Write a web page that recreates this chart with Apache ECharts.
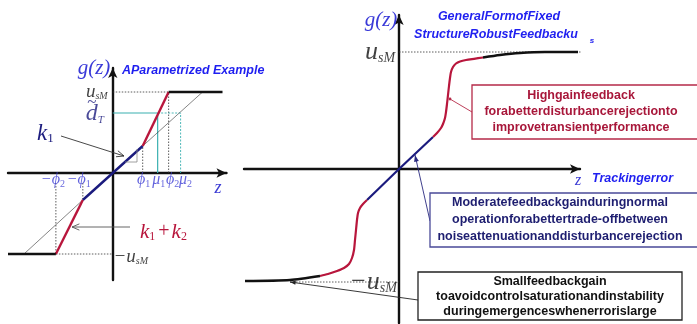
<!DOCTYPE html>
<html><head><meta charset="utf-8">
<script src="https://cdn.jsdelivr.net/npm/echarts@6/dist/echarts.min.js"></script>
<style>html,body{margin:0;padding:0;background:#fff}#c{width:697px;height:324px}</style>
</head><body><div id="c"></div><script>
// ---- Left panel: parametrized piecewise-linear feedback g(z) ----
const leftBlue   = [[-3, -2.7], [0, 0], [3, 2.7]];          // slope k1
const leftRedPos = [[3, 2.7], [5.6, 8.1]];                  // slope k1 + k2
const leftRedNeg = [[-5.7, -8.1], [-3, -2.7]];
const leftSatPos = [[5.6, 8.1], [11, 8.1]];                 // saturation u_sM
const leftSatNeg = [[-10.5, -8.1], [-5.7, -8.1]];
const leftK1Pos  = [[3, 2.7], [9, 8.1]];                    // k1 continued
const leftK1Neg  = [[-3, -2.7], [-8.9, -8.1]];
const leftDotted = [
  [[0, 8.1], [5.6, 8.1]], [[5.6, 0], [5.6, 8.1]], [[3, 0], [3, 2.7]],
  [[-5.7, -8.1], [0, -8.1]], [[-5.7, -1], [-5.7, -8.1]], [[-3, -1], [-3, -2.7]]
];
const leftTealSolid  = [[[0, 6], [4.5, 6]], [[4.5, 0], [4.5, 6]]];
const leftTealDotted = [[[4.5, 6], [6.8, 6]], [[6.8, 0], [6.8, 6]]];
const leftTickPos  = [-5.7, -3, 3, 4.5, 5.6, 6.8];
const leftTickSym  = ['−ϕ', '−ϕ', 'ϕ', 'μ', 'ϕ', 'μ'];
const leftTickSub  = ['2', '1', '1', '1', '2', '2'];
const leftTickNudge = [-3, -4, 1, 1, 4, 5];

// ---- Right panel: general form of fixed structure robust feedback ----
const rightBlue   = [[-3.2, -3.1], [0, 0], [3.4, 3.2]];
const rightRedPos = [[3.4, 3.2], [3.8, 3.6], [4.2, 4.1], [4.4, 4.5], [4.6, 5.1], [4.7, 5.7],
                     [4.8, 6.5], [4.9, 7.4], [5.0, 8.3], [5.1, 9.1], [5.2, 9.7], [5.4, 10.2],
                     [5.7, 10.55], [6.1, 10.75], [6.7, 10.9], [7.5, 11.02], [8.4, 11.15]];
const rightBlackPos = [[8.4, 11.15], [10.1, 11.4], [12.1, 11.6], [14.6, 11.7], [17.9, 11.7]];
const rightRedNeg = [[-7.9, -10.7], [-7.1, -10.5], [-6.2, -10.2], [-5.5, -9.9], [-5.0, -9.5],
                     [-4.7, -8.9], [-4.5, -8.1], [-4.4, -7.1], [-4.3, -6.1], [-4.2, -5.1],
                     [-4.1, -4.4], [-3.9, -3.9], [-3.6, -3.5], [-3.2, -3.1]];
const rightBlackNeg = [[-15.4, -11.2], [-10.9, -11.1], [-7.9, -10.7]];
const rightUpper = 11.7, rightLower = -11.3;

const NAVY = '#1b1b7e', RED = '#b8163c', TEAL = '#3ab0b0';
const SERIF = '"Liberation Serif", "DejaVu Serif", serif';
const SANS = '"Liberation Sans", Arial, sans-serif';

function seg(data, xi, color, width, type, z) {
  return { type: 'line', xAxisIndex: xi, yAxisIndex: xi, data: data, symbol: 'none',
    silent: true, animation: false, clip: false, z: z || 3,
    lineStyle: { color: color, width: width, type: type || 'solid' } };
}
function smooth(data, xi, color, width) {
  const s = seg(data, xi, color, width);
  s.smooth = 0.25;
  return s;
}

const mathRich = {
  m:  { fontFamily: SERIF, fontStyle: 'italic', fontSize: 16, color: '#3c3cd4' },
  s:  { fontFamily: SERIF, fontSize: 10, color: '#3c3cd4', padding: [8, 0, 0, 0] },
  u:  { fontFamily: SERIF, fontStyle: 'italic', fontSize: 19, color: '#111' },
  us: { fontFamily: SERIF, fontStyle: 'italic', fontSize: 10, color: '#111', padding: [9, 0, 0, 0] },
  U:  { fontFamily: SERIF, fontStyle: 'italic', fontSize: 26, color: '#111' },
  Us: { fontFamily: SERIF, fontStyle: 'italic', fontSize: 14, color: '#111', padding: [12, 0, 0, 0] },
  d:  { fontFamily: SERIF, fontStyle: 'italic', fontSize: 24, color: NAVY },
  ds: { fontFamily: SERIF, fontStyle: 'italic', fontSize: 11, color: NAVY, padding: [12, 0, 0, 0] },
  t:  { fontFamily: SERIF, fontSize: 17, color: NAVY }
};

function labelSeries(xi, items) {
  return { type: 'scatter', xAxisIndex: xi, yAxisIndex: xi, symbolSize: 0, silent: true,
    animation: false, z: 6,
    label: { show: true, position: 'inside', rich: mathRich },
    data: items.map(it => ({ value: it.v, label: { formatter: it.f, offset: it.o } })) };
}

const leftTickItems = leftTickPos.map((x, i) => ({
  v: [x, 0], f: '{m|' + leftTickSym[i] + '}{s|' + leftTickSub[i] + '}', o: [leftTickNudge[i], 7]
}));

const series = [
  // left panel
  ...leftDotted.map(d => seg(d, 0, '#333', 0.8, [1.5, 1.5], 2)),
  ...leftTealSolid.map(d => seg(d, 0, TEAL, 1.2, 'solid', 2)),
  ...leftTealDotted.map(d => seg(d, 0, TEAL, 0.9, [2, 1.5], 2)),
  seg(leftK1Pos, 0, '#333', 0.6, 'solid', 2),
  seg(leftK1Neg, 0, '#333', 0.6, 'solid', 2),
  seg(leftBlue, 0, NAVY, 2.4),
  seg(leftRedPos, 0, RED, 2.4),
  seg(leftRedNeg, 0, RED, 2.4),
  seg(leftSatPos, 0, '#111', 2.4),
  seg(leftSatNeg, 0, '#111', 2.4),
  labelSeries(0, leftTickItems.concat([
    { v: [0, 8.1], f: '{u|u}{us|sM}', o: [-16, 0] },
    { v: [0, 6], f: '{d|d}{ds|T}', o: [-18, 1] },
    { v: [0, 6], f: '{t|~}', o: [-21, -10] },
    { v: [0, -8.1], f: '{u|−u}{us|sM}', o: [18, 3] }
  ])),
  // right panel
  seg([[0, rightUpper], [19.3, rightUpper]], 1, '#333', 0.8, [1.5, 1.5], 2),
  seg([[-10.9, rightLower], [0, rightLower]], 1, '#333', 0.8, [1.5, 1.5], 2),
  seg(rightBlue, 1, NAVY, 2.2),
  smooth(rightRedPos, 1, RED, 2.2),
  smooth(rightRedNeg, 1, RED, 2.2),
  smooth(rightBlackPos, 1, '#111', 2.4),
  smooth(rightBlackNeg, 1, '#111', 2.4),
  labelSeries(1, [
    { v: [0, rightUpper], f: '{U|u}{Us|sM}', o: [-19, 0] },
    { v: [0, rightLower], f: '{U|−u}{Us|sM}', o: [-26, 0] }
  ])
];

function axisPair(xi) {
  const line = (sym) => ({ show: true, onZero: true, symbol: sym, symbolSize: [7, 10],
    lineStyle: { color: '#111', width: 2.4 } });
  return {
    x: { type: 'value', gridIndex: xi, axisLine: line(['none', 'arrow']),
      axisTick: { show: false }, axisLabel: { show: false }, splitLine: { show: false } },
    y: { type: 'value', gridIndex: xi, axisLine: line(['none', 'arrow']),
      axisTick: { show: false }, axisLabel: { show: false }, splitLine: { show: false } }
  };
}
const a0 = axisPair(0), a1 = axisPair(1);
Object.assign(a0.x, { min: -10.5, max: 11.4 });
Object.assign(a0.y, { min: -10.7, max: 10.5 });
Object.assign(a1.x, { min: -15.5, max: 18.1 });
Object.assign(a1.y, { min: -15.4, max: 15.4 });

// annotation helpers (pointers, boxes, captions)
function arrowHead(x1, y1, x2, y2, len, spread, color, filled) {
  const a = Math.atan2(y2 - y1, x2 - x1);
  const p1 = [x2 - len * Math.cos(a - spread), y2 - len * Math.sin(a - spread)];
  const p2 = [x2 - len * Math.cos(a + spread), y2 - len * Math.sin(a + spread)];
  return filled
    ? { type: 'polygon', silent: true, z: 10, shape: { points: [p1, [x2, y2], p2] }, style: { fill: color } }
    : { type: 'polyline', silent: true, z: 10, shape: { points: [p1, [x2, y2], p2] },
        style: { stroke: color, lineWidth: 0.9, fill: null } };
}
function ln(x1, y1, x2, y2, color, w) {
  return { type: 'line', silent: true, z: 10, shape: { x1, y1, x2, y2 },
    style: { stroke: color, lineWidth: w || 0.9 } };
}
function txt(x, y, text, font, fill, align, extra) {
  return Object.assign({ type: 'text', silent: true, z: 12, x: x, y: y,
    style: Object.assign({ text: text, font: font, fill: fill, textAlign: align || 'left',
      align: align || 'left', textVerticalAlign: 'middle', verticalAlign: 'middle' }, extra || {}) });
}
function box(x, y, w, h, stroke) {
  return { type: 'rect', silent: true, z: 11, shape: { x, y, width: w, height: h },
    style: { fill: '#fff', stroke: stroke, lineWidth: 1.3 } };
}

const BOXFONT = 'bold 12.5px ' + SANS;
const TITLEFONT = 'italic bold 12.5px ' + SANS;
const graphic = [
  // left captions
  txt(94, 68, 'g(z)', 'italic 21px ' + SERIF, '#3a3ad8', 'center'),
  txt(122, 71, 'AParametrized Example', TITLEFONT, '#1f1ff0'),
  txt(218, 188, 'z', 'italic 18px ' + SERIF, '#3c3cd4', 'center'),
  txt(37, 134, '', '', NAVY, 'left', {
    text: '{k|k}{s|1}', rich: { k: { fontFamily: SERIF, fontStyle: 'italic', fontSize: 23, fill: NAVY, color: NAVY },
      s: { fontFamily: SERIF, fontSize: 13, color: NAVY, fill: NAVY, padding: [10, 0, 0, 0] } } }),
  txt(140, 232, '', '', RED, 'left', {
    text: '{k|k}{s|1}{p|+}{k|k}{s|2}', rich: {
      k: { fontFamily: SERIF, fontStyle: 'italic', fontSize: 21, color: RED, fill: RED },
      p: { fontFamily: SERIF, fontSize: 20, color: RED, fill: RED, padding: [0, 2, 0, 3] },
      s: { fontFamily: SERIF, fontSize: 12, color: RED, fill: RED, padding: [10, 0, 0, 0] } } }),
  ln(61, 136, 124, 156, '#333'), arrowHead(61, 136, 124, 156, 8, 0.4, '#333', false),
  ln(130, 227, 72, 227, '#555'), arrowHead(130, 227, 72, 227, 8, 0.4, '#555', false),
  { type: 'polyline', silent: true, z: 10, shape: { points: [[125, 162], [137, 162], [137, 149]] },
    style: { stroke: '#888', lineWidth: 0.8, fill: null } },

  // right captions
  txt(381, 20, 'g(z)', 'italic 21px ' + SERIF, '#3a3ad8', 'center'),
  txt(499, 17, 'GeneralFormofFixed', TITLEFONT, '#1f1ff0', 'center'),
  txt(496, 35, 'StructureRobustFeedbacku', TITLEFONT, '#1f1ff0', 'center'),
  txt(592, 41, 's', 'italic bold 8px ' + SANS, '#1f1ff0', 'center'),
  txt(578, 181, 'z', 'italic 16px ' + SERIF, '#3c3cd4', 'center'),
  txt(592, 179, 'Trackingerror', TITLEFONT, '#1f1ff0'),

  // red box: high gain
  box(472, 85, 240, 54, '#b52a48'),
  txt(581, 112, 'Highgainfeedback\nforabetterdisturbancerejectionto\nimprovetransientperformance',
      BOXFONT, '#a8173a', 'center', { lineHeight: 16 }),
  ln(472, 112, 450, 99, '#b52a48'),
  { type: 'circle', silent: true, z: 10, shape: { cx: 450, cy: 99, r: 1.4 }, style: { fill: '#b52a48' } },

  // navy box: moderate gain
  box(430, 193, 280, 54, '#4a4a98'),
  txt(560, 220, 'Moderatefeedbackgainduringnormal\noperationforabettertrade-offbetween\nnoiseattenuationanddisturbancerejection',
      BOXFONT, '#1e1e70', 'center', { lineHeight: 17 }),
  ln(430, 221, 415, 155, '#2a2a80'), arrowHead(430, 221, 415, 155, 7, 0.35, '#2a2a80', true),

  // black box: small gain
  box(418, 272, 264, 48, '#222'),
  txt(550, 297, 'Smallfeedbackgain\ntoavoidcontrolsaturationandinstability\nduringemergenceswhenerrorislarge',
      BOXFONT, '#111', 'center', { lineHeight: 15 }),
  ln(418, 300, 290, 282, '#222'), arrowHead(418, 300, 290, 282, 6, 0.35, '#222', true)
];

const chart = echarts.init(document.getElementById('c'), null, { renderer: 'canvas' });
chart.setOption({
  animation: false,
  backgroundColor: '#fff',
  grid: [
    { left: 8, top: 68, width: 218.5, height: 212, containLabel: false, outerBoundsMode: 'none' },
    { left: 244, top: 15, width: 336, height: 308, containLabel: false, outerBoundsMode: 'none' }
  ],
  xAxis: [a0.x, a1.x],
  yAxis: [a0.y, a1.y],
  series: series,
  graphic: graphic
});
</script></body></html>
